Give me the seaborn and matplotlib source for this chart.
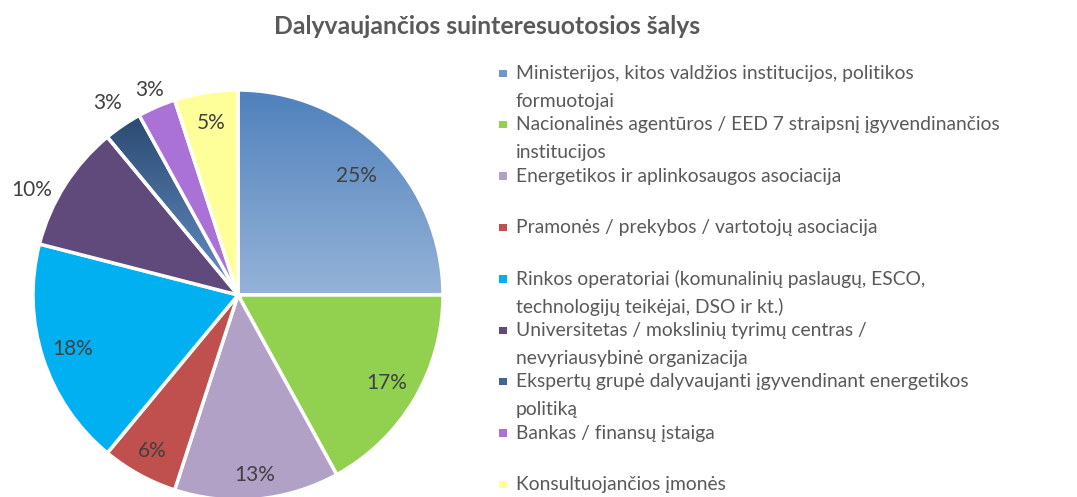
import numpy as np
import matplotlib.pyplot as plt
import seaborn as sns
from matplotlib.colors import LinearSegmentedColormap
from matplotlib.patches import Rectangle

title = "Dalyvaujančios suinteresuotosios šalys"
categories = [
    "Ministerijos, kitos valdžios institucijos, politikos\nformuotojai",
    "Nacionalinės agentūros / EED 7 straipsnį įgyvendinančios\ninstitucijos",
    "Energetikos ir aplinkosaugos asociacija",
    "Pramonės / prekybos / vartotojų asociacija",
    "Rinkos operatoriai (komunalinių paslaugų, ESCO,\ntechnologijų teikėjai, DSO ir kt.)",
    "Universitetas / mokslinių tyrimų centras /\nnevyriausybinė organizacija",
    "Ekspertų grupė dalyvaujanti įgyvendinant energetikos\npolitiką",
    "Bankas / finansų įstaiga",
    "Konsultuojančios įmonės",
]
shares = [25, 17, 13, 6, 18, 10, 3, 3, 5]

colors = ["#6F97CA", "#92D050", "#B2A1C7", "#C0504D", "#00B0F0",
          "#604A7B", "#3F6596", "#AA72D6", "#FFFF99"]
gradients = {0: ("#4F81BD", "#95B3D7"), 6: ("#2B4A72", "#6690C6")}
label_dist = [0.82, 0.84, 0.88, 0.87, 0.85, 1.13, 1.13, 1.09, 0.85]
label_turn = [0, 0, 0, 0, 0, 5.5, 0, 0, 0]  # degrees, outside label nudge

sns.set_theme(style="white")
plt.rcParams["font.family"] = ["Lato", "DejaVu Sans"]

W, H = 1077, 497
fig = plt.figure(figsize=(W / 100, H / 100), dpi=100)
ax = fig.add_axes([0, 0, 1, 1])

cx, cy, r = 238, H - 295, 205
wedges, _ = ax.pie(shares, colors=colors, startangle=90, counterclock=False,
                   center=(cx, cy), radius=r,
                   wedgeprops=dict(edgecolor="white", linewidth=2.5))

# gradient fill for the two blue slices
for i, (top, bottom) in gradients.items():
    w = wedges[i]
    v = w.get_path().vertices
    cmap = LinearSegmentedColormap.from_list("g%d" % i, [bottom, top])
    grad = np.linspace(0, 1, 256).reshape(-1, 1)
    im = ax.imshow(grad, extent=(v[:, 0].min(), v[:, 0].max(), v[:, 1].min(), v[:, 1].max()),
                   origin="lower", cmap=cmap, aspect="auto", zorder=0.9)
    im.set_clip_path(w)
    w.set_facecolor("none")

for w, pct, d, t in zip(wedges, shares, label_dist, label_turn):
    ang = np.deg2rad((w.theta1 + w.theta2) / 2 + t)
    ax.text(cx + d * r * np.cos(ang), cy + d * r * np.sin(ang), f"{pct}%",
            ha="center", va="center", fontsize=15, color="#404040")

ax.text(487, H - 34, title, ha="center", va="baseline", fontsize=17.8,
        fontweight="bold", color="#595959")

# legend
step, line = 51.4, 28
for i, (lab, col) in enumerate(zip(categories, colors)):
    base = 79 + step * i
    ax.add_patch(Rectangle((499, H - base + 2), 7.5, 7.5, color=col, lw=0))
    for j, txt in enumerate(lab.split("\n")):
        ax.text(516, H - (base + line * j), txt, ha="left", va="baseline",
                fontsize=13.9, color="#595959")

ax.set_xlim(0, W)
ax.set_ylim(0, H)
ax.set_aspect("auto")
ax.axis("off")
fig.savefig("out.png", dpi=100)
